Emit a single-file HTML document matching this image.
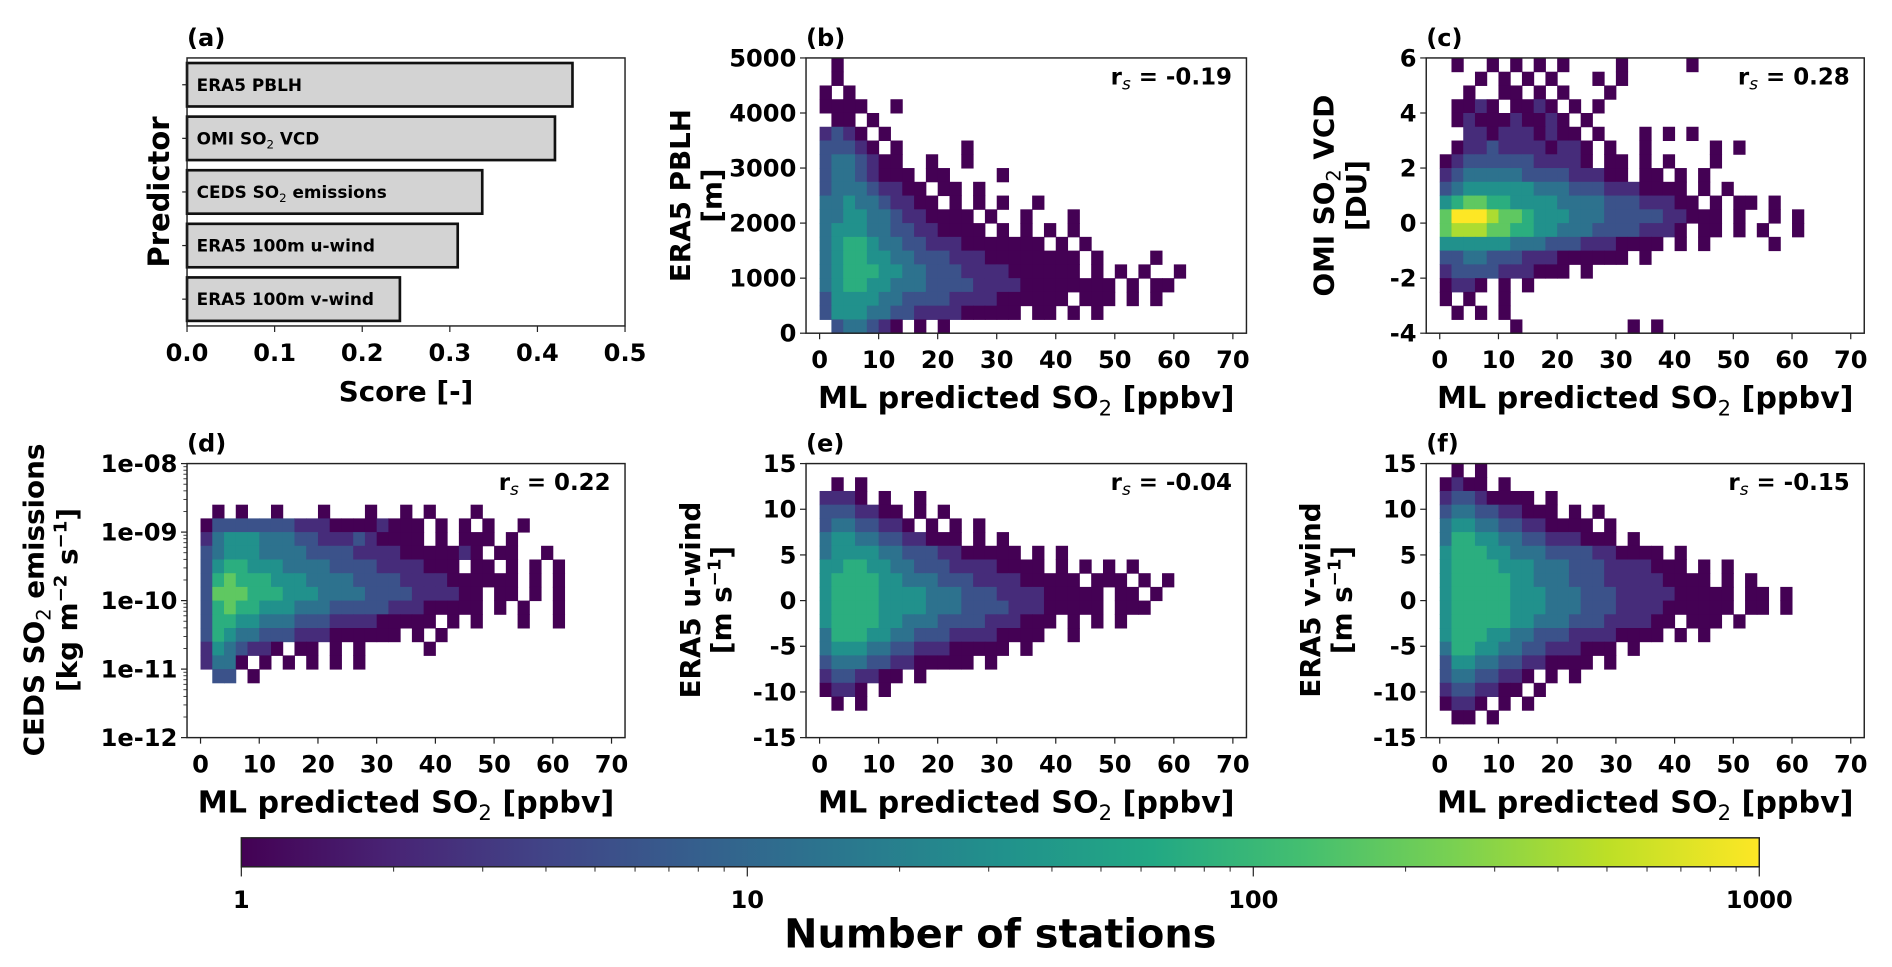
<!DOCTYPE html>
<html><head><meta charset="utf-8"><style>
html,body{margin:0;padding:0;background:#fff;}
svg{display:block;font-family:"DejaVu Sans","Liberation Sans",sans-serif;font-weight:bold;}
</style></head><body>
<svg id="fig" width="1892" height="967" viewBox="0 0 1568 801" preserveAspectRatio="none" xmlns="http://www.w3.org/2000/svg"></svg>
<script>
// ---- data ----
const barNames = ["ERA5 PBLH","OMI SO2 VCD","CEDS SO2 emissions","ERA5 100m u-wind","ERA5 100m v-wind"];
const barScores = [0.44,0.42,0.337,0.309,0.243];
const scoreTicks = [0,0.1,0.2,0.3,0.4,0.5];
const xTicksPred = [0,10,20,30,40,50,60,70];
const rsB = "-0.19", rsC = "0.28", rsD = "0.22", rsE = "-0.04", rsF = "-0.15";
// heatmap grids: rows from top to bottom, columns 2 ppbv wide from 0; digit = log level code (1..9), '.' empty
const gridB = [
".1",".1","1.1","1111..1",".11.1",
"2321.1","33321.1.....1","3443211..1..1","34432111.11....1","344432211.11.1",
"4454432211.1.1.1..1","4455443221111.1..1...1","45554433221111.1.1.1.1","4566544332221111111.1.1","4566554433322211111111.1....1",
"4566655443332222111111.1.1.1..1","4566554443333222211111111.1.11","355554433332222111111.111.1.1","35554433222211111.11.1.1",".344321.1.1"];
const gridC = [
".1..1.1.1.1....1.....1","...1.1.1.1...1.1","..1..11.1.1...1",".1121.1121.1.1",".1211121121.1",
"..2212221211.1...1.1.1",".122322221221.1..1.....1.1","1233333322221.11.1.1...1","2344444333322211.11.1.1","345555554443332221111.1.1",
"5677665555444433322211.1.11.1","799987765554443333322111.1..1.1","788877665544433332221.11.1.1..1","5555554443332221111.1.1.....1","3344333222111111.1",
"23333222111.1","1221.1.1","1.1..1",".1.1.1","......1.........1.1"];
const gridD = [
"","","",".1.1..1...1...1..1.1...1","1333333322211112111.1.1.1..1",
"2455544433222321111.1.111.1","345554444333322221111121.11..1","3566555444433332222111.11.1.1.1","367666555444433332222111111.1.1","377766655544443333222211.11.1.1",
"367665554443333322211111.1.1..1","36655444333222211111.1.1...1..1","36544333222111111.1.1","2543221.11.1.1.....1","2441.1.1.1.1.1",
".33.1","","","",""];
const gridE = [
"",".1.1","2221.1..1","3332211.1.1","34433221.1.1.1",
"455443322111.1.1","45555443332211111.1.1","5566554433322221111.1.1.1.1","5666655444333222211111.111.1.1","566665555444333222211111.11.1",
"566665555444333322211111.111","56666554443333222111.1.1.1","4666554433322221111..1","4555443322211111.1","3444332211111.1",
"2332211.1","1221.1",".1.1","",""];
const gridF = [
".1.1","1211.1","23321111.1","3443322111.1.1","4554433221111.1",
"466554433222111.1","5666554443333221111.1","566665554443332222111.1.1","56666655444333222221111.1.1","5666665554443332222211111.11.1",
"5666665554443332222111111.11.1","56666655444333222211.111.1","5666554433322221111.1.1","466554433222111.1","3554433221111.1",
"34433221.1.1","2332211.1","1221.1.1",".11.1",""];
const cbTicks = [1,10,100,1000];

// ---- helpers ----
const NS="http://www.w3.org/2000/svg";
const svg=document.getElementById('fig');
function el(tag,attrs,parent){const e=document.createElementNS(NS,tag);for(const k in attrs)e.setAttribute(k,attrs[k]);(parent||svg).appendChild(e);return e;}
const vir=[[68,1,84],[72,36,117],[65,68,135],[53,95,141],[42,120,142],[33,145,140],[34,168,132],[68,191,112],[122,209,81],[189,223,38],[253,231,37]];
function viridis(f){f=Math.max(0,Math.min(1,f));const p=f*10,i=Math.min(9,Math.floor(p)),t=p-i;const a=vir[i],b=vir[i+1];return `rgb(${a.map((v,k)=>Math.round(v+(b[k]-v)*t)).join(',')})`;}
function countOf(ch){const L=+ch;return Math.pow(10,3*(L-1)/8);}
function colorOfCount(c){return viridis(Math.log10(c)/3);}
function txt(x,y,s,size,anchor,parent,name){const t=el('text',{x:x,y:y,'font-size':size,'text-anchor':anchor||'start'},parent);t.textContent=s;


return t;}
function sub(t,main,subs,rest,size){t.textContent='';const a=el('tspan',{},t);a.textContent=main;const b=el('tspan',{'font-size':size*0.7,dy:size*0.25,'font-weight':'normal'},t);b.textContent=subs;const c=el('tspan',{dy:-size*0.25},t);c.textContent=rest;}
function frame(L,T,R,B,name){const r=el('rect',{x:L,y:T,width:R-L,height:B-T,fill:'none',stroke:'#222','stroke-width':1.2});

}

// ---- panel (a) ----
(function(){
 const g=el('g',{});
 
 
 const L=155,R=518,T=48,B=270;
 const xs=v=>L+(v-0)/(0.5)*(R-L);
 const bandH=(B-T)/barNames.length;
 barNames.forEach((n,i)=>{
  const cy=T+bandH*(i+0.5);
  const r=el('rect',{x:xs(0),y:cy-18,width:xs(barScores[i])-xs(0),height:36,fill:'#d3d3d3',stroke:'#111','stroke-width':2.2},g);
  
  
  el('line',{x1:L-4,x2:L,y1:cy,y2:cy,stroke:'#222'},g);
  const t=txt(L+8,cy+5,n,14,'start',g,'bar-label');
  if(n.includes('SO2')){const p=n.split('SO2');sub(t,p[0]+'SO',"2",p[1],14);}
 });
 frame(L,T,R,B,'panel-a-frame');
 scoreTicks.forEach(v=>{el('line',{x1:xs(v),x2:xs(v),y1:B,y2:B+5,stroke:'#222'},g);txt(xs(v),B+29,v.toFixed(1),20,'middle',g,'x-tick-label');});
 txt((L+R)/2,B+62,'Score [-]',23,'middle',g,'x-axis-title');
 const yl=txt(0,0,'Predictor',24,'middle',g,'y-axis-title');yl.setAttribute('transform',`translate(140,${(T+B)/2}) rotate(-90)`);
 txt(155,38,'(a)',20,'start',g,'panel-label-a');
})();

// ---- heatmap panels ----
function heat(opt){
 const g=el('g',{});
 
 
 const {L,R,T,B}=opt;const x0=-2.3,x1=72.3;
 const xs=v=>L+(v-x0)/(x1-x0)*(R-L);
 const nr=opt.grid.length, rh=(B-T)/nr;
 opt.grid.forEach((row,ri)=>{
  for(let ci=0;ci<row.length;ci++){const ch=row[ci];if(ch==='.')continue;
   const c=el('rect',{x:xs(ci*2),y:T+ri*rh,width:xs(2)-xs(0)+0.4,height:rh+0.4,fill:colorOfCount(countOf(ch))},g);
   
   }
 });
 frame(L,T,R,B,opt.name+'-frame');
 xTicksPred.forEach(v=>{el('line',{x1:xs(v),x2:xs(v),y1:B,y2:B+5,stroke:'#222'},g);txt(xs(v),B+29,String(v),20,'middle',g,'x-tick-label');});
 sub(txt((L+R)/2,B+62,'',25,'middle',g,'x-axis-title'),'ML predicted SO','2',' [ppbv]',25);
 opt.yTicks.forEach(([v,lab])=>{const y=opt.ys(v);el('line',{x1:L-5,x2:L,y1:y,y2:y,stroke:'#222'},g);txt(L-8,y+7,lab,20,'end',g,'y-tick-label');});
 if(opt.minor)opt.minor.forEach(v=>{const y=opt.ys(v);el('line',{x1:L-3,x2:L,y1:y,y2:y,stroke:'#222','stroke-width':0.7},g);});
 const rt=txt(R-12,T+22,'',19,'end',g,'spearman-r');
 const a=el('tspan',{},rt);a.textContent='r';const b=el('tspan',{'font-size':14,dy:4,'font-weight':'normal','font-style':'italic'},rt);b.textContent='s';const c=el('tspan',{dy:-4},rt);c.textContent=' = '+opt.rs;
 opt.ylab(g);
 txt(L,38+(T-48),opt.tag,20,'start',g,'panel-label');
}
function rotLabel(g,x,y,build){const t=txt(0,0,'',23,'middle',g,'y-axis-title');t.setAttribute('transform',`translate(${x},${y}) rotate(-90)`);build(t);return t;}

heat({name:'panel-b-pblh',L:668,R:1033,T:48,B:276,grid:gridB,rs:rsB,tag:'(b)',
 ys:v=>276-v/5000*228,yTicks:[0,1000,2000,3000,4000,5000].map(v=>[v,String(v)]),
 ylab:g=>{rotLabel(g,572,162,t=>t.textContent='ERA5 PBLH');rotLabel(g,598,162,t=>t.textContent='[m]');}});
heat({name:'panel-c-omi',L:1182,R:1545,T:48,B:276,grid:gridC,rs:rsC,tag:'(c)',
 ys:v=>276-(v+4)/10*228,yTicks:[-4,-2,0,2,4,6].map(v=>[v,String(v)]),
 ylab:g=>{rotLabel(g,1105,162,t=>sub(t,'OMI SO','2',' VCD',23));rotLabel(g,1132,162,t=>t.textContent='[DU]');}});
heat({name:'panel-d-ceds',L:155,R:518,T:384,B:611,grid:gridD,rs:rsD,tag:'(d)',
 ys:v=>611-(v+12)/4*227,yTicks:[[-12,'1e-12'],[-11,'1e-11'],[-10,'1e-10'],[-9,'1e-09'],[-8,'1e-08']],
 minor:(()=>{const a=[];for(let d=-12;d<-8;d++)for(let k=2;k<10;k++)a.push(d+Math.log10(k));return a;})(),
 ylab:g=>{rotLabel(g,36,497,t=>sub(t,'CEDS SO','2',' emissions',23));
  rotLabel(g,64,497,t=>{t.textContent='';const p=el('tspan',{},t);p.textContent='[kg m';const s1=el('tspan',{'font-size':15,dy:-9},t);s1.textContent='−2';const q=el('tspan',{dy:9},t);q.textContent=' s';const s2=el('tspan',{'font-size':15,dy:-9},t);s2.textContent='−1';const r=el('tspan',{dy:9},t);r.textContent=']';});}});
heat({name:'panel-e-uwind',L:668,R:1033,T:384,B:611,grid:gridE,rs:rsE,tag:'(e)',
 ys:v=>611-(v+15)/30*227,yTicks:[-15,-10,-5,0,5,10,15].map(v=>[v,String(v)]),
 ylab:g=>{rotLabel(g,580,497,t=>t.textContent='ERA5 u-wind');rotLabel(g,606,497,t=>{t.textContent='';const p=el('tspan',{},t);p.textContent='[m s';const s=el('tspan',{'font-size':15,dy:-9},t);s.textContent='−1';const q=el('tspan',{dy:9},t);q.textContent=']';});}});
heat({name:'panel-f-vwind',L:1182,R:1545,T:384,B:611,grid:gridF,rs:rsF,tag:'(f)',
 ys:v=>611-(v+15)/30*227,yTicks:[-15,-10,-5,0,5,10,15].map(v=>[v,String(v)]),
 ylab:g=>{rotLabel(g,1094,497,t=>t.textContent='ERA5 v-wind');rotLabel(g,1120,497,t=>{t.textContent='';const p=el('tspan',{},t);p.textContent='[m s';const s=el('tspan',{'font-size':15,dy:-9},t);s.textContent='−1';const q=el('tspan',{dy:9},t);q.textContent=']';});}});

// ---- colorbar ----
(function(){
 const g=el('g',{});
 
 
 const L=200,R=1458,T=694,B=718;
 const defs=el('defs',{},g);const lg=el('linearGradient',{id:'vg',x1:0,x2:1,y1:0,y2:0},defs);
 for(let i=0;i<=10;i++)el('stop',{offset:i/10,'stop-color':viridis(i/10)},lg);
 el('rect',{x:L,y:T,width:R-L,height:B-T,fill:'url(#vg)',stroke:'#222','stroke-width':1.2},g);
 const xs=v=>L+Math.log10(v)/3*(R-L);
 for(let d=0;d<3;d++)for(let k=2;k<10;k++){const x=xs(k*Math.pow(10,d));el('line',{x1:x,x2:x,y1:B,y2:B+4,stroke:'#222','stroke-width':0.8},g);}
 cbTicks.forEach(v=>{el('line',{x1:xs(v),x2:xs(v),y1:B,y2:B+8,stroke:'#222'},g);txt(xs(v),B+34,String(v),20,'middle',g,'colorbar-tick-label');});
 txt((L+R)/2,785,'Number of stations',33,'middle',g,'colorbar-title');
})();
</script>
</body></html>
